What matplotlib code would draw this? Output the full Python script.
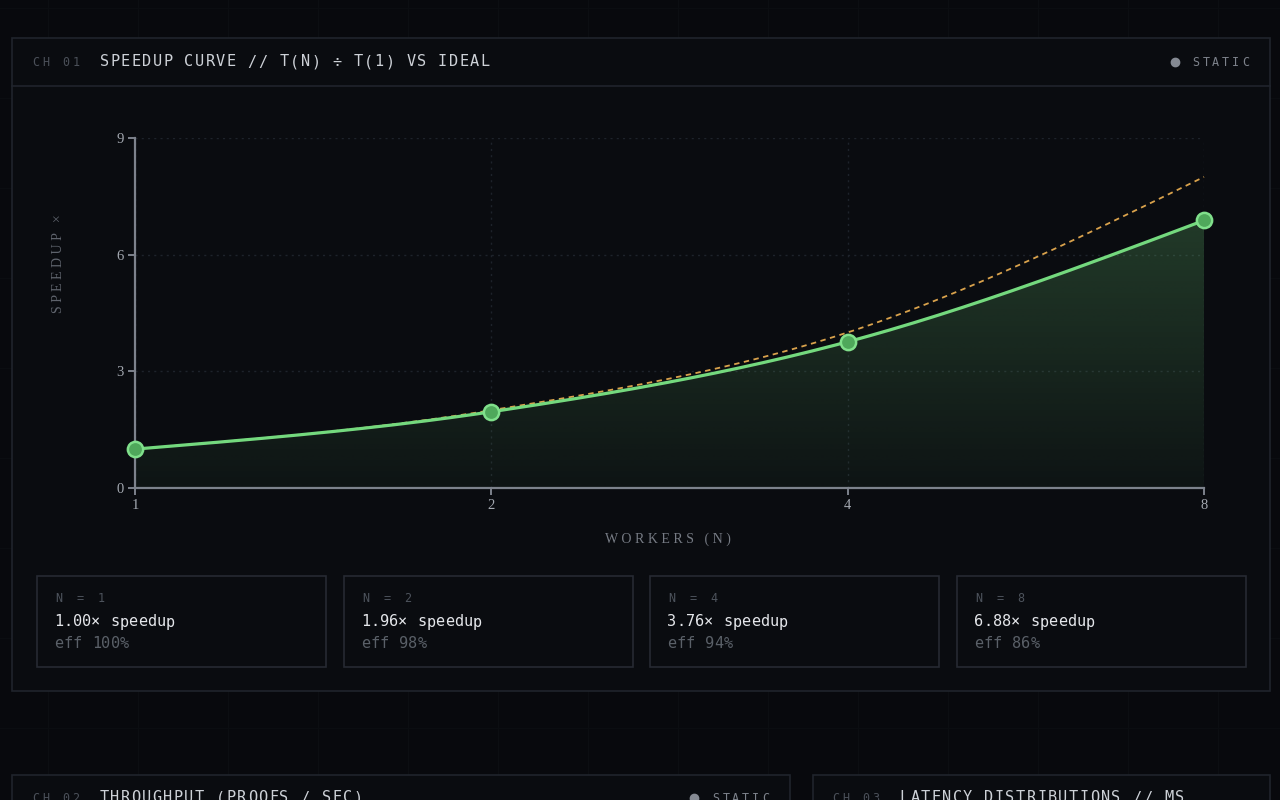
import numpy as np
import matplotlib.pyplot as plt
from matplotlib.patches import Rectangle, Polygon
from matplotlib.lines import Line2D

# data
workers = [1, 2, 4, 8]
speedup = [1.00, 1.96, 3.76, 6.88]
ideal = [1, 2, 4, 8]
efficiency = [100, 98, 94, 86]
y_ticks = [0, 3, 6, 9]

W, H = 1280, 800
BG = '#08090d'
PANEL = '#0a0c10'
BORDER = '#20242c'
GREEN = '#74d97e'
ORANGE = '#d9a24c'
MONO = 'DejaVu Sans Mono'
SERIF = 'Liberation Serif'


def fx(x):
    return x / W


def fy(y):
    return 1 - y / H


def monotone(xs, ys, n=60):
    # smooth line through the points, like d3 curveMonotoneX
    xs = np.asarray(xs, float)
    ys = np.asarray(ys, float)
    h = np.diff(xs)
    s = np.diff(ys) / h
    t = np.zeros(len(xs))
    for i in range(1, len(xs) - 1):
        p = (s[i - 1] * h[i] + s[i] * h[i - 1]) / (h[i - 1] + h[i])
        t[i] = (np.sign(s[i - 1]) + np.sign(s[i])) * min(abs(s[i - 1]), abs(s[i]), 0.5 * abs(p))
    t[0] = (3 * s[0] - t[1]) / 2
    t[-1] = (3 * s[-1] - t[-2]) / 2
    ox, oy = [], []
    for i in range(len(h)):
        u = np.linspace(0, 1, n)
        h00 = 2 * u**3 - 3 * u**2 + 1
        h10 = u**3 - 2 * u**2 + u
        h01 = -2 * u**3 + 3 * u**2
        h11 = u**3 - u**2
        ox.append(xs[i] + u * h[i])
        oy.append(h00 * ys[i] + h10 * h[i] * t[i] + h01 * ys[i + 1] + h11 * h[i] * t[i + 1])
    return np.concatenate(ox), np.concatenate(oy)


def spaced(x, y, s, pitch, size, color, family=MONO, **kw):
    # monospace text with letter spacing, one glyph per cell
    for i, ch in enumerate(s):
        fig.text(fx(x + (i + 0.5) * pitch), fy(y), ch, ha='center', va='center',
                 fontsize=size, color=color, family=family, **kw)


def box(x0, y0, x1, y1, face=PANEL, edge=BORDER, lw=1.2):
    fig.add_artist(Rectangle((fx(x0), fy(y1)), fx(x1 - x0), (y1 - y0) / H,
                             transform=fig.transFigure, facecolor=face, edgecolor=edge,
                             linewidth=lw, zorder=0.2))


def dot(x, y):
    fig.add_artist(Line2D([fx(x)], [fy(y)], marker='o', ms=6, color='#858a93',
                          lw=0, zorder=3))


fig = plt.figure(figsize=(12.8, 8), dpi=100, facecolor=BG)

# faint page grid
for gx in range(48, W, 90):
    fig.add_artist(Line2D([fx(gx)] * 2, [0, 1], color='#0c0e12', lw=1, zorder=0.05))
for gy in range(8, H, 90):
    fig.add_artist(Line2D([0, 1], [fy(gy)] * 2, color='#0b0d11', lw=1, zorder=0.05))

# main panel
box(12, 38, 1270, 691)
fig.add_artist(Line2D([fx(12), fx(1270)], [fy(86)] * 2, color=BORDER, lw=1.2, zorder=0.3))
spaced(31, 62, 'CH 01', 10, 8.5, '#4b5059')
spaced(99, 62, 'SPEEDUP CURVE // T(N) ÷ T(1) VS IDEAL', 10.57, 11, '#cdd1d7')
dot(1175, 62)
spaced(1191, 62, 'STATIC', 9.9, 8.5, '#7d828b')

# chart
ax = fig.add_axes([fx(135), fy(488), (1204 - 135) / W, (488 - 138) / H])
ax.set_zorder(2)
ax.patch.set_alpha(0)
idx = np.arange(len(workers))

ax.set_xlim(0, len(workers) - 1)
ax.set_ylim(0, 9)
ax.set_xticks(idx, [str(w) for w in workers])
ax.set_yticks(y_ticks)
ax.grid(True, color='#1e232b', linestyle=(0, (1.5, 3)), lw=1)
ax.set_axisbelow(True)
for side in ['top', 'right']:
    ax.spines[side].set_visible(False)
for side in ['left', 'bottom']:
    ax.spines[side].set_color('#7d828c')
    ax.spines[side].set_linewidth(1.6)
ax.tick_params(colors='#7d828c', length=5, width=1.4, pad=3, labelsize=10.5,
               labelcolor='#a3a8b0')
for lab in ax.get_xticklabels() + ax.get_yticklabels():
    lab.set_family(SERIF)

# ideal (dashed)
ix, iy = monotone(idx, ideal)
ax.plot(ix, iy, color=ORANGE, lw=1.3, dashes=(3, 2.5), zorder=3, clip_on=False)

# measured curve with gradient area
sx, sy = monotone(idx, speedup)
verts = np.column_stack([np.r_[sx, sx[-1], sx[0]], np.r_[sy, 0, 0]])
poly = Polygon(verts, closed=True, facecolor='none', edgecolor='none')
ax.add_patch(poly)
grad = np.zeros((200, 2, 4))
rgb = np.array([116, 217, 126]) / 255
grad[..., :3] = rgb
alpha = np.linspace(0.04, 0.04 + 0.19 * 9 / 7, 200)
grad[..., 3] = alpha[:, None]
im = ax.imshow(grad, extent=[0, len(workers) - 1, 0, 9], origin='lower',
               aspect='auto', zorder=1, interpolation='bilinear')
im.set_clip_path(poly)

ax.plot(sx, sy, color=GREEN, lw=2.3, zorder=4, solid_capstyle='round')
ax.plot(idx, speedup, 'o', ms=11, mfc='#4fa85b', mec='#80e08b', mew=1.8,
        zorder=5, clip_on=False)

fig.text(fx(668), fy(539), 'W O R K E R S   ( N )', ha='center', va='center',
         fontsize=10, color='#767b84', family=SERIF)
fig.text(fx(58), fy(313), 'S P E E D U P   ×', ha='left', va='center', rotation=90,
         rotation_mode='anchor', fontsize=10, color='#5f646d', family=SERIF)

# stat cards
card_x = [37, 344, 650, 957]
for cx, n, sp, ef in zip(card_x, workers, speedup, efficiency):
    box(cx, 576, cx + 289, 667, face='#0a0c10', edge='#262a32')
    spaced(cx + 17, 599, 'N = %d' % n, 10.4, 8.5, '#4d535c')
    spaced(cx + 17, 622, '%.2f× speedup' % sp, 9.3, 11, '#e4e6ea')
    spaced(cx + 17, 644, 'eff %d%%' % ef, 9.4, 11, '#5a6068')

# next panels peeking in at the bottom
box(12, 775, 790, 830)
box(813, 775, 1270, 830)
spaced(31, 798, 'CH 02', 10, 8.5, '#4b5059')
spaced(99, 798, 'THROUGHPUT (PROOFS / SEC)', 10.57, 11, '#cdd1d7')
dot(694, 798)
spaced(711, 798, 'STATIC', 9.9, 8.5, '#7d828b')
spaced(831, 798, 'CH 03', 10, 8.5, '#4b5059')
spaced(899, 798, 'LATENCY DISTRIBUTIONS // MS', 10.57, 11, '#cdd1d7')

fig.savefig('out.png', dpi=100, facecolor=BG)
